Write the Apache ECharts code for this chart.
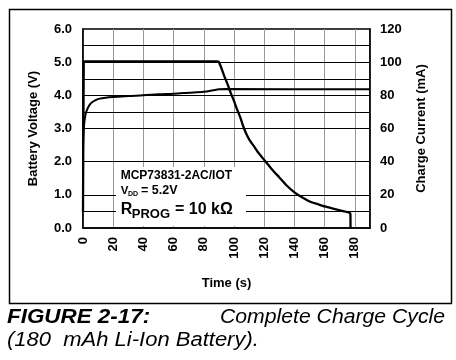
<!DOCTYPE html>
<html>
<head>
<meta charset="utf-8">
<script src="https://cdn.jsdelivr.net/npm/echarts@6/dist/echarts.min.js"></script>
<style>
html,body{margin:0;padding:0;background:#fff;}
#c{width:456px;height:360px;}
</style>
</head>
<body>
<div id="c"></div>
<script>
// ---- data ----
var timeV = [0, 0.3, 0.7, 1.2, 2, 3, 4.5, 6, 8, 11, 15, 20, 30, 40, 50, 60, 70, 80, 86, 90, 95, 190];
var voltV = [2.4, 2.8, 3.1, 3.3, 3.48, 3.6, 3.72, 3.79, 3.85, 3.9, 3.93, 3.95, 3.98, 4.0, 4.03, 4.05, 4.08, 4.11, 4.15, 4.18, 4.19, 4.18];
var timeI = [0, 0.5, 1, 30, 60, 89, 90, 92, 94, 96, 98, 100, 102, 104, 106, 108, 110, 113, 116, 120, 125, 130, 135, 140, 145, 150, 155, 160, 165, 170, 174, 177, 177.1];
var currI = [10, 100, 100.5, 100.5, 100.5, 100.5, 100, 95.5, 90.5, 86, 81, 76.5, 71.5, 67, 61.5, 57, 53.5, 49.5, 45.5, 41, 35.5, 30.5, 25.5, 21.5, 18.5, 16, 14.5, 13, 11.8, 10.7, 9.8, 8.7, 0];
var hGridV = [5.5, 5.0, 4.5, 4.0, 3.5, 3.0, 2.0, 1.0, 0.5];
var xTicks = {min: 0, max: 190, interval: 20};
var vTicks = {min: 0, max: 6, interval: 1};
var iTicks = {min: 0, max: 120, interval: 20};

var FONT = '"Liberation Sans", Arial, Helvetica, sans-serif';
function zip(a, b) { return a.map(function (v, i) { return [v, b[i]]; }); }
// place text by its baseline (top-aligned text: baseline ~ 0.815 * size below top)
function txt(str, x, base, size, weight, extra) {
  var el = {type: 'text', x: x, y: base - 0.815 * size, z: 101,
    style: {text: str, fill: '#000', font: weight + ' ' + size + 'px ' + FONT, whiteSpace: 'pre'}};
  if (extra) Object.assign(el, extra);
  return el;
}

var chart = echarts.init(document.getElementById('c'), null, {renderer: 'canvas'});
var lbl = {color: '#000', fontWeight: 'bold', fontSize: 13, fontFamily: FONT};

chart.setOption({
  animation: false,
  backgroundColor: '#fff',
  grid: {left: 83, top: 29, right: 86, bottom: 132, show: true, borderColor: '#000', borderWidth: 1.5, containLabel: false},
  xAxis: {
    type: 'value', min: xTicks.min, max: xTicks.max, interval: xTicks.interval,
    name: 'Time (s)', nameLocation: 'middle', nameGap: 49,
    nameTextStyle: {color: '#000', fontWeight: 'bold', fontSize: 13, fontFamily: FONT},
    axisLine: {show: true, lineStyle: {color: '#000', width: 1.5}},
    axisTick: {show: false},
    axisLabel: Object.assign({rotate: 90, margin: 9, showMaxLabel: false,
      formatter: function (v) { return v % 20 === 0 ? String(v) : ''; }}, lbl),
    splitLine: {show: true, lineStyle: {color: '#999', width: 1}}
  },
  yAxis: [{
    type: 'value', min: vTicks.min, max: vTicks.max, interval: vTicks.interval, position: 'left',
    name: 'Battery Voltage (V)', nameLocation: 'middle', nameGap: 43, nameRotate: 90,
    nameTextStyle: {color: '#000', fontWeight: 'bold', fontSize: 13, fontFamily: FONT},
    axisLine: {show: true, lineStyle: {color: '#000', width: 1.5}},
    axisTick: {show: false},
    axisLabel: Object.assign({margin: 11, formatter: function (v) { return v.toFixed(1); }}, lbl),
    splitLine: {show: false}
  }, {
    type: 'value', min: iTicks.min, max: iTicks.max, interval: iTicks.interval, position: 'right',
    name: 'Charge Current (mA)', nameLocation: 'middle', nameGap: 45, nameRotate: 90,
    nameTextStyle: {color: '#000', fontWeight: 'bold', fontSize: 13, fontFamily: FONT},
    axisLine: {show: true, lineStyle: {color: '#000', width: 1.5}},
    axisTick: {show: false},
    axisLabel: Object.assign({margin: 10}, lbl),
    splitLine: {show: false}
  }],
  series: [{
    type: 'line', name: 'V', yAxisIndex: 0, showSymbol: false, symbol: 'none',
    data: zip(timeV, voltV), smooth: 0.3,
    lineStyle: {color: '#000', width: 2},
    z: 5,
    markLine: {
      silent: true, symbol: 'none', label: {show: false},
      lineStyle: {color: '#000', width: 1, type: 'solid'},
      data: hGridV.map(function (v) { return {yAxis: v}; }),
      z: 2
    }
  }, {
    type: 'line', name: 'I', yAxisIndex: 1, showSymbol: false, symbol: 'none',
    data: zip(timeI, currI), smooth: 0.2,
    lineStyle: {color: '#000', width: 2.3},
    z: 6
  }],
  graphic: [
    {type: 'rect', left: 7, top: 7, shape: {x: 0, y: 0, width: 442, height: 294}, style: {fill: 'none', stroke: '#000', lineWidth: 1.5}, z: 100},
    {type: 'rect', shape: {x: 116, y: 167, width: 130, height: 59}, style: {fill: '#fff'}, z: 100},
    txt('MCP73831-2AC/IOT', 120.7, 179.3, 12, 'bold'),
    txt('V', 120.7, 194.3, 11.5, 'bold'),
    txt('DD', 128, 196, 7, 'bold'),
    txt('= 5.2V', 141, 194.3, 12.5, 'bold'),
    txt('R', 120.7, 214.3, 16, 'bold'),
    txt('PROG', 131.8, 218.5, 13, 'bold'),
    txt('= 10 k\u03A9', 175, 214.3, 16, 'bold'),
    txt('FIGURE 2-17:', 7, 324.2, 20, 'italic bold', {scaleX: 1.12}),
    txt('Complete Charge Cycle', 220, 324.2, 20, 'italic', {scaleX: 1.06}),
    txt('(180  mAh Li-Ion Battery).', 7, 346.5, 20, 'italic', {scaleX: 1.1})
  ]
});
</script>
</body>
</html>
